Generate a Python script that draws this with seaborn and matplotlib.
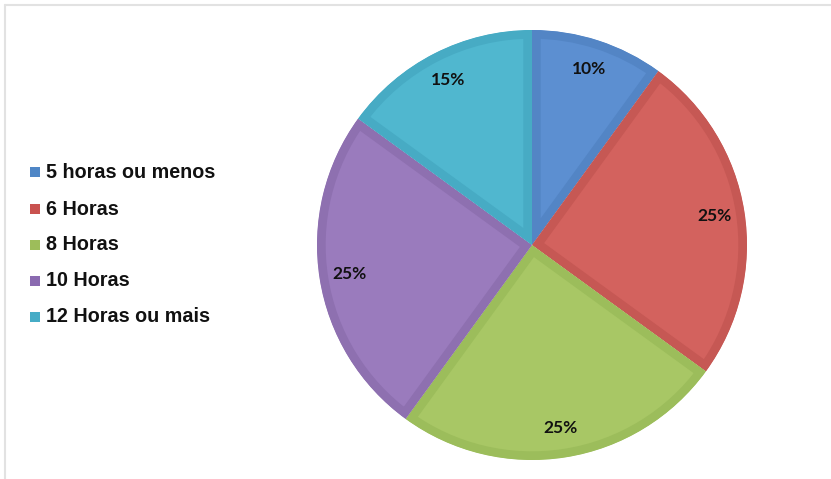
import matplotlib
matplotlib.use("Agg")
import matplotlib.pyplot as plt
from matplotlib.lines import Line2D
from matplotlib.patches import Rectangle
import seaborn as sns

sns.set_theme(style="white")
plt.rcParams["font.family"] = ["Liberation Sans", "DejaVu Sans"]

# Hours of sleep per night, share of respondents (%)
categories = ["5 horas ou menos", "6 Horas", "8 Horas", "10 Horas", "12 Horas ou mais"]
shares = [10, 25, 25, 25, 15]
fill_colors = ["#5c8fd1", "#d3625e", "#a8c765", "#9a7bbd", "#50b7cf"]
edge_colors = ["#5385c5", "#c65854", "#9cbd5b", "#8e70b0", "#47abc4"]
legend_colors = ["#4f86c6", "#c9524f", "#9dbd5a", "#8a6ab0", "#46acc6"]

W, H = 831, 479
fig = plt.figure(figsize=(W / 100, H / 100), dpi=100)
fig.patch.set_facecolor("white")

# thin frame around the chart area
fig.add_artist(Line2D([5 / W, 5 / W], [0, 1 - 5 / H], color="#e2e2e2", lw=1.5))
fig.add_artist(Line2D([5 / W, 1], [1 - 5 / H, 1 - 5 / H], color="#e2e2e2", lw=1.5))

cx, cy, r = 532, 245, 215
ax = fig.add_axes([(cx - r) / W, (H - cy - r) / H, 2 * r / W, 2 * r / H])
wedges, texts, autotexts = ax.pie(
    shares,
    colors=fill_colors,
    startangle=90,
    counterclock=False,
    radius=1,
    autopct=lambda p: f"{p:.0f}%",
    pctdistance=0.86,
    wedgeprops=dict(linewidth=0),
    textprops=dict(fontsize=12.5, fontweight="bold", color="#111111",
                   family=["Lato", "DejaVu Sans"]),
)
# darker inner rim on every slice: stroke clipped to the slice itself
for w, ec in zip(wedges, edge_colors):
    w.set_edgecolor(ec)
    w.set_linewidth(12.5)
    w.set_joinstyle("miter")
    w.set_clip_on(True)
    w.set_clip_path(w)
for t in autotexts:
    t.set_zorder(5)
ax.set_xlim(-1, 1)
ax.set_ylim(-1, 1)
ax.set_aspect("equal")
ax.axis("off")

# legend on the left
row_y = [172, 209, 245, 281, 317]
for lab, col, y in zip(categories, legend_colors, row_y):
    fig.add_artist(Rectangle((30 / W, 1 - (y + 5) / H), 10 / W, 10 / H,
                             transform=fig.transFigure, facecolor=col,
                             edgecolor="none"))
    fig.text(46 / W, 1 - y / H, lab, fontsize=14.2, fontweight="bold",
             color="#111111", va="center", ha="left")

fig.savefig("out.png", dpi=100, facecolor="white")
